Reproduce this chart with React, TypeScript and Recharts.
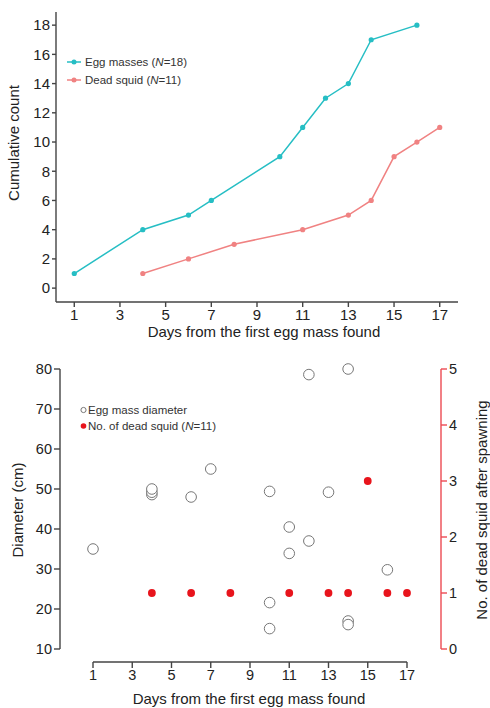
import {
  LineChart,
  Line,
  ComposedChart,
  Scatter,
  XAxis,
  YAxis,
  Legend,
} from 'recharts'

// top panel: cumulative counts
const eggDays = [1, 4, 6, 7, 10, 11, 12, 13, 14, 16]
const eggCumulative = [1, 4, 5, 6, 9, 11, 13, 14, 17, 18]
const squidDays = [4, 6, 8, 11, 13, 14, 15, 16, 17]
const squidCumulative = [1, 2, 3, 4, 5, 6, 9, 10, 11]
const dayTicks = [1, 3, 5, 7, 9, 11, 13, 15, 17]
const countTicks = [0, 2, 4, 6, 8, 10, 12, 14, 16, 18]

// bottom panel: egg mass diameter and dead squid per day
const diameterDays = [1, 4, 4, 4, 6, 7, 10, 10, 10, 11, 11, 12, 12, 13, 14, 14, 14, 16]
const diameterCm = [35, 48.6, 49.2, 50, 48, 55, 49.4, 21.6, 15.1, 40.5, 33.9, 78.6, 37, 49.2, 80, 17, 16.1, 29.8]
const deadDays = [4, 6, 8, 11, 13, 14, 15, 16, 17]
const deadCounts = [1, 1, 1, 1, 1, 1, 3, 1, 1]
const diameterTicks = [10, 20, 30, 40, 50, 60, 70, 80]
const deadTicks = [0, 1, 2, 3, 4, 5]

const eggData = eggDays.map((day, i) => ({ day, value: eggCumulative[i] }))
const squidData = squidDays.map((day, i) => ({ day, value: squidCumulative[i] }))
const diameterData = diameterDays.map((day, i) => ({ day, value: diameterCm[i] }))
const deadData = deadDays.map((day, i) => ({ day, value: deadCounts[i] }))

const TEAL = '#26bec4'
const SALMON = '#f08282'
const RED = '#e8141c'
const RED_AXIS = '#ec4a52'
const AXIS = '#444'
const INK = '#222'

const titleStyle = { fontSize: 15, fill: INK }

function Title({ x, y, text, rotate }: { x: number; y: number; text: string; rotate?: boolean }) {
  return (
    <text
      x={x}
      y={y}
      textAnchor="middle"
      dominantBaseline="central"
      transform={rotate ? `rotate(-90 ${x} ${y})` : undefined}
      style={titleStyle}
    >
      {text}
    </text>
  )
}

function TopLegend() {
  const rows = [
    { label: 'Egg masses', n: 18, color: TEAL },
    { label: 'Dead squid', n: 11, color: SALMON },
  ]
  return (
    <div style={{ fontSize: 11.5, color: '#333', lineHeight: '18px' }}>
      {rows.map((r) => (
        <div key={r.label} style={{ display: 'flex', alignItems: 'center' }}>
          <svg width={19} height={18}>
            <line x1={1} y1={9} x2={15} y2={9} stroke={r.color} strokeWidth={1.5} />
            <circle cx={8} cy={9} r={2.5} fill={r.color} />
          </svg>
          <span>
            {r.label} (<i>N</i>={r.n})
          </span>
        </div>
      ))}
    </div>
  )
}

function BottomLegend() {
  return (
    <div style={{ fontSize: 11.5, color: '#333', lineHeight: '16px' }}>
      <div style={{ display: 'flex', alignItems: 'center' }}>
        <svg width={8} height={16}>
          <circle cx={3.5} cy={8} r={2.6} fill="#fff" stroke="#777" strokeWidth={1} />
        </svg>
        <span>Egg mass diameter</span>
      </div>
      <div style={{ display: 'flex', alignItems: 'center' }}>
        <svg width={8} height={16}>
          <circle cx={3.5} cy={8} r={2.8} fill={RED} />
        </svg>
        <span>
          No. of dead squid (<i>N</i>=11)
        </span>
      </div>
    </div>
  )
}

export default function App() {
  return (
    <div
      style={{
        position: 'absolute',
        left: 0,
        top: 0,
        width: 490,
        height: 708,
        background: '#fff',
        fontFamily: '"Liberation Sans", Arial, sans-serif',
      }}
    >
      <LineChart width={490} height={345} margin={{ top: 12, right: 32, left: 0, bottom: 0 }}>
        <XAxis
          type="number"
          dataKey="day"
          domain={[0.2, 17.8]}
          ticks={dayTicks}
          height={43}
          tickSize={5}
          stroke={AXIS}
          strokeWidth={1.4}
          tick={{ fontSize: 15, fill: INK }}
          label={{ content: () => <Title x={264} y={331} text="Days from the first egg mass found" /> }}
        />
        <YAxis
          type="number"
          dataKey="value"
          domain={[-0.95, 18.9]}
          ticks={countTicks}
          width={56}
          tickSize={4}
          stroke={AXIS}
          strokeWidth={1.4}
          tick={{ fontSize: 15, fill: INK }}
          label={{ content: () => <Title x={13} y={143} text="Cumulative count" rotate /> }}
        />
        <Legend
          layout="horizontal"
          verticalAlign="middle"
          align="center"
          content={() => <TopLegend />}
          wrapperStyle={{ position: 'absolute', left: 66, top: 53, width: 'auto' }}
        />
        <Line
          data={eggData}
          dataKey="value"
          stroke={TEAL}
          strokeWidth={1.5}
          dot={{ r: 2.6, fill: TEAL, stroke: TEAL, strokeWidth: 0 }}
          activeDot={false}
          isAnimationActive={false}
        />
        <Line
          data={squidData}
          dataKey="value"
          stroke={SALMON}
          strokeWidth={1.5}
          dot={{ r: 2.6, fill: SALMON, stroke: SALMON, strokeWidth: 0 }}
          activeDot={false}
          isAnimationActive={false}
        />
      </LineChart>

      <ComposedChart width={490} height={363} margin={{ top: 24, right: 0, left: 0, bottom: 0 }}>
        <XAxis
          xAxisId="days"
          type="number"
          dataKey="day"
          domain={[1, 17]}
          ticks={dayTicks}
          height={46}
          tickSize={6}
          stroke={AXIS}
          strokeWidth={1.4}
          tick={{ fontSize: 14.5, fill: INK }}
          label={{ content: () => <Title x={249} y={353} text="Days from the first egg mass found" /> }}
        />
        {/* spacer axes keep the drawn axes off the plot area */}
        <XAxis xAxisId="aGapX" type="number" domain={[1, 17]} height={13} axisLine={false} tickLine={false} tick={false} />
        <YAxis
          yAxisId="diam"
          orientation="left"
          type="number"
          dataKey="value"
          domain={[10, 80]}
          ticks={diameterTicks}
          width={60}
          tickSize={6}
          stroke={AXIS}
          strokeWidth={1.4}
          tick={{ fontSize: 14.5, fill: INK }}
          label={{ content: () => <Title x={17} y={165} text="Diameter (cm)" rotate /> }}
        />
        <YAxis yAxisId="aGapL" orientation="left" type="number" domain={[0, 1]} width={33} axisLine={false} tickLine={false} tick={false} />
        <YAxis
          yAxisId="dead"
          orientation="right"
          type="number"
          dataKey="value"
          domain={[0, 5]}
          ticks={deadTicks}
          width={49}
          tickSize={6}
          stroke={RED_AXIS}
          strokeWidth={1.4}
          tick={{ fontSize: 14.5, fill: INK }}
          label={{ content: () => <Title x={481} y={165} text="No. of dead squid after spawning" rotate /> }}
        />
        <YAxis yAxisId="aGapR" orientation="right" type="number" domain={[0, 1]} width={34} axisLine={false} tickLine={false} tick={false} />
        <Legend
          layout="horizontal"
          verticalAlign="middle"
          align="center"
          content={() => <BottomLegend />}
          wrapperStyle={{ position: 'absolute', left: 80, top: 57, width: 'auto' }}
        />
        <Scatter
          data={diameterData}
          xAxisId="days"
          yAxisId="diam"
          isAnimationActive={false}
          shape={(p: any) => <circle cx={p.cx} cy={p.cy} r={5.3} fill="#fff" stroke="#777" strokeWidth={1} />}
        />
        <Scatter
          data={deadData}
          xAxisId="days"
          yAxisId="dead"
          isAnimationActive={false}
          shape={(p: any) => <circle cx={p.cx} cy={p.cy} r={3.9} fill={RED} />}
        />
      </ComposedChart>
    </div>
  )
}
